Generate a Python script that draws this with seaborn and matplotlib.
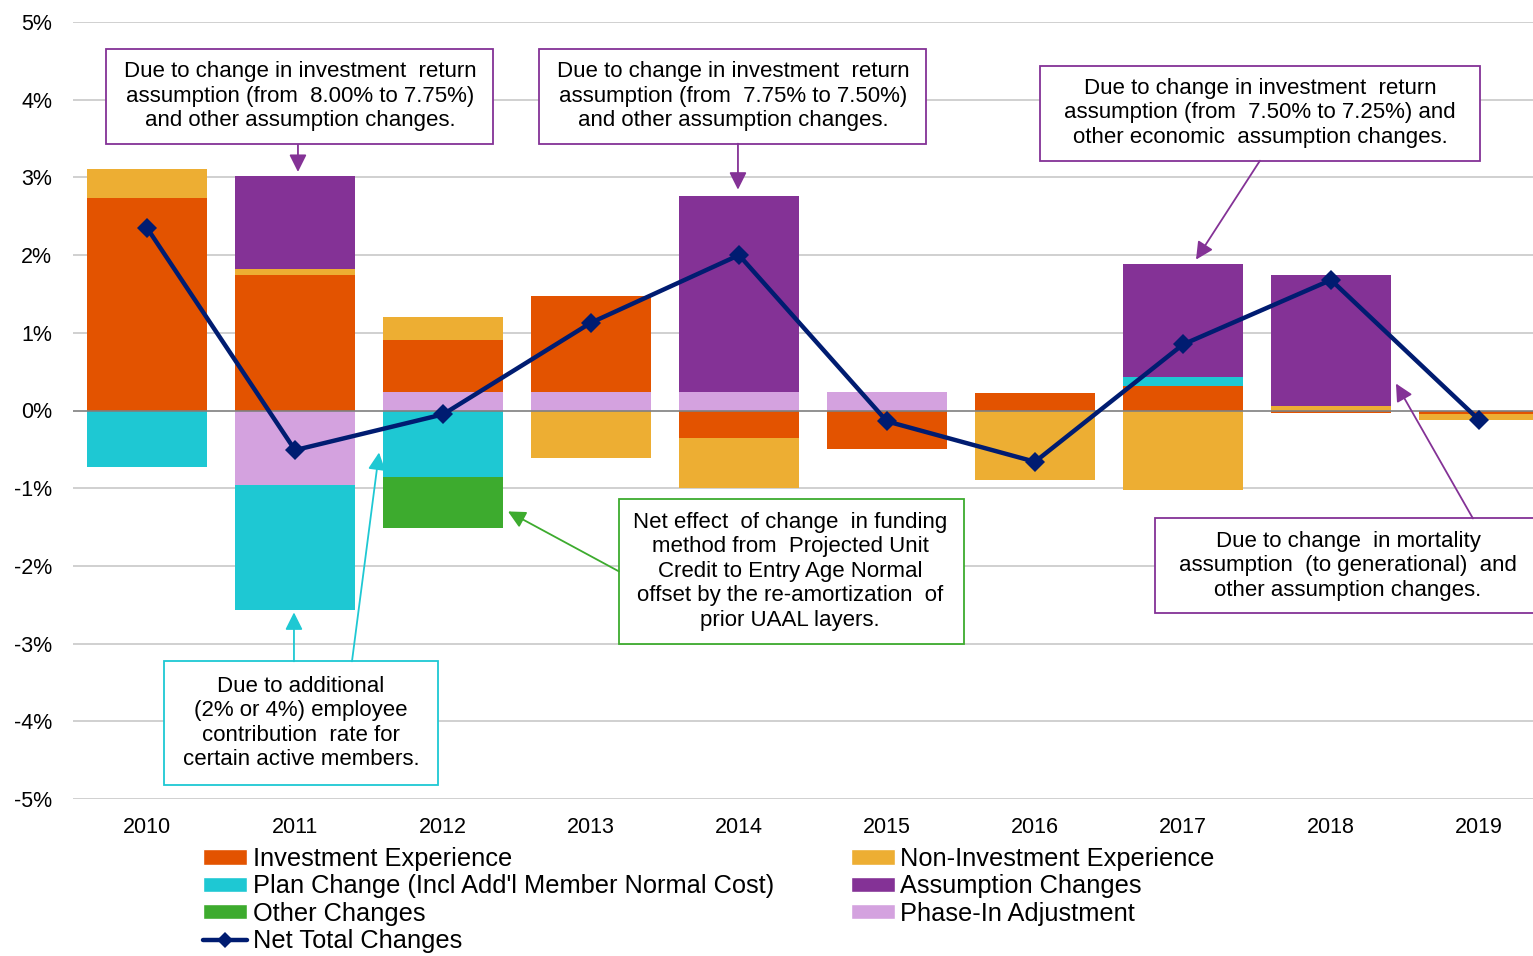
import numpy as np
import pandas as pd
import matplotlib
matplotlib.use("Agg")
import matplotlib.pyplot as plt
from matplotlib.patches import Patch, Rectangle
from matplotlib.lines import Line2D
import seaborn as sns

# ---------------- data ----------------
years = ["2010", "2011", "2012", "2013", "2014", "2015", "2016", "2017", "2018", "2019"]
phase_in = [0.00, -0.96, 0.24, 0.24, 0.24, 0.24, 0.00, 0.00, 0.00, 0.00]
investment = [2.74, 1.75, 0.67, 1.23, -0.36, -0.50, 0.22, 0.31, -0.03, -0.05]
non_investment = [0.37, 0.07, 0.29, -0.61, -0.64, 0.00, -0.89, -1.02, 0.06, -0.07]
plan_change = [-0.73, -1.61, -0.85, 0.00, 0.00, 0.00, 0.00, 0.12, 0.00, 0.00]
assumption = [0.00, 1.20, 0.00, 0.00, 2.52, 0.00, 0.00, 1.46, 1.68, 0.00]
other = [0.00, 0.00, -0.66, 0.00, 0.00, 0.00, 0.00, 0.00, 0.00, 0.00]
net_total = [2.35, -0.51, -0.05, 1.13, 2.00, -0.14, -0.66, 0.85, 1.68, -0.12]

y_ticks = [-5, -4, -3, -2, -1, 0, 1, 2, 3, 4, 5]
y_labels = ["-5%", "-4%", "-3%", "-2%", "-1%", "0%", "1%", "2%", "3%", "4%", "5%"]

C_INV = "#E35300"
C_NONINV = "#EDAE33"
C_PLAN = "#1EC8D3"
C_ASSUMP = "#843296"
C_OTHER = "#3DAB2E"
C_PHASE = "#D4A2DF"
C_NET = "#001C71"

# stacking order (bottom -> top)
stack = [
    ("Phase-In Adjustment", phase_in, C_PHASE),
    ("Investment Experience", investment, C_INV),
    ("Non-Investment Experience", non_investment, C_NONINV),
    ("Plan Change (Incl Add'l Member Normal Cost)", plan_change, C_PLAN),
    ("Assumption Changes", assumption, C_ASSUMP),
    ("Other Changes", other, C_OTHER),
]

sns.set_theme(style="white")
plt.rcParams["font.family"] = ["Liberation Sans", "DejaVu Sans"]
plt.rcParams["text.color"] = "black"

W, H = 1533, 956
fig = plt.figure(figsize=(W / 100, H / 100), dpi=100)
ax = fig.add_axes([73 / W, (H - 799) / H, (W - 73) / W, (799 - 22) / H])

pos_base = np.zeros(len(years))
neg_base = np.zeros(len(years))
for name, vals, col in stack:
    v = np.array(vals, dtype=float)
    bottom = np.where(v >= 0, pos_base, neg_base)
    df = pd.DataFrame({"year": years, "val": v})
    sns.barplot(data=df, x="year", y="val", order=years, color=col, width=0.81,
                errorbar=None, bottom=bottom, linewidth=0, saturation=1,
                ax=ax, zorder=2)
    pos_base = pos_base + np.where(v > 0, v, 0)
    neg_base = neg_base + np.where(v < 0, v, 0)

# grid & zero line
for t in y_ticks:
    if t != 0:
        ax.axhline(t, color="#C8C8C8", lw=1.2, zorder=0)
ax.axhline(0, color="#7F7F7F", lw=1.2, zorder=3)

# net total line
net_df = pd.DataFrame({"x": np.arange(len(years)), "net": net_total})
sns.lineplot(data=net_df, x="x", y="net", color=C_NET, lw=3.2, marker="D",
             markersize=10.5, markeredgewidth=0, ax=ax, zorder=5, sort=False)

ax.set_xlim(-0.5, 9.365)
ax.set_ylim(-5, 5)
ax.set_yticks(y_ticks)
ax.set_yticklabels(y_labels)
ax.set_xticks(np.arange(len(years)))
ax.set_xticklabels(years)
ax.set_xlabel("")
ax.set_ylabel("")
ax.tick_params(axis="y", length=0, pad=15, labelsize=15.5, labelcolor="black")
ax.tick_params(axis="x", length=0, pad=13, labelsize=15.5, labelcolor="black")
for s in ax.spines.values():
    s.set_visible(False)
if ax.get_legend() is not None:
    ax.get_legend().remove()

# ---------------- annotations ----------------
FS = 16


def box(x0, x1, y0, y1, col):
    ax.add_patch(Rectangle((x0, y0), x1 - x0, y1 - y0, facecolor="white",
                           edgecolor=col, lw=1.3, zorder=6, clip_on=False))


def arrow(start, tip, col):
    ax.annotate("", xy=tip, xytext=start,
                arrowprops=dict(arrowstyle="-|>,head_length=0.7,head_width=0.35",
                                color=col, lw=1.3, shrinkA=0, shrinkB=0,
                                mutation_scale=15),
                zorder=6, annotation_clip=False)


def label(x, y, s):
    ax.text(x, y, s, ha="center", va="center", fontsize=FS, color="black",
            zorder=7, linespacing=1.22, clip_on=False)


# 1 - 2011 assumption
box(-0.277, 2.338, 3.434, 4.656, C_ASSUMP)
label(1.034, 4.045, "Due to change in investment  return\nassumption (from  8.00% to 7.75%)\nand other assumption changes.")
arrow((1.02, 3.42), (1.02, 3.07), C_ASSUMP)

# 2 - 2014 assumption
box(2.649, 5.264, 3.434, 4.656, C_ASSUMP)
label(3.959, 4.045, "Due to change in investment  return\nassumption (from  7.75% to 7.50%)\nand other assumption changes.")
arrow((3.993, 3.434), (3.993, 2.842), C_ASSUMP)

# 3 - 2017 assumption
box(6.034, 9.007, 3.215, 4.437, C_ASSUMP)
label(7.52, 3.83, "Due to change in investment  return\nassumption (from  7.50% to 7.25%) and\nother economic  assumption changes.")
arrow((7.52, 3.215), (7.088, 1.942), C_ASSUMP)

# 4 - plan change
box(0.115, 1.966, -4.823, -3.228, C_PLAN)
label(1.04, -4.02, "Due to additional\n(2% or 4%) employee\ncontribution  rate for\ncertain active members.")
arrow((0.993, -3.228), (0.993, -2.598), C_PLAN)
arrow((1.385, -3.228), (1.568, -0.54), C_PLAN)

# 5 - other changes
box(3.189, 5.52, -3.01, -1.145, C_OTHER)
label(4.345, -2.07, "Net effect  of change  in funding\nmethod from  Projected Unit\nCredit to Entry Age Normal\noffset by the re-amortization  of\nprior UAAL layers.")
arrow((3.189, -2.071), (2.439, -1.299), C_OTHER)

# 6 - 2018 mortality
box(6.811, 9.6, -2.611, -1.389, C_ASSUMP)
label(8.115, -2.0, "Due to change  in mortality\nassumption  (to generational)  and\nother assumption changes.")
arrow((8.959, -1.389), (8.439, 0.347), C_ASSUMP)

# ---------------- legend ----------------
handles = [
    Patch(facecolor=C_INV, label="Investment Experience"),
    Patch(facecolor=C_PLAN, label="Plan Change (Incl Add'l Member Normal Cost)"),
    Patch(facecolor=C_OTHER, label="Other Changes"),
    Line2D([0], [0], color=C_NET, lw=3.2, marker="D", markersize=8, markeredgewidth=0,
           label="Net Total Changes"),
    Patch(facecolor=C_NONINV, label="Non-Investment Experience"),
    Patch(facecolor=C_ASSUMP, label="Assumption Changes"),
    Patch(facecolor=C_PHASE, label="Phase-In Adjustment"),
]
leg = fig.legend(handles=handles, ncol=2, loc="upper left",
                 bbox_to_anchor=(203 / W, (H - 847) / H), bbox_transform=fig.transFigure,
                 frameon=False, fontsize=18.3, labelspacing=0.13, handlelength=1.75,
                 handleheight=0.55, handletextpad=0.2, columnspacing=3.03,
                 borderpad=0, borderaxespad=0)
for t in leg.get_texts():
    t.set_color("black")

fig.savefig("out.png", dpi=100)
